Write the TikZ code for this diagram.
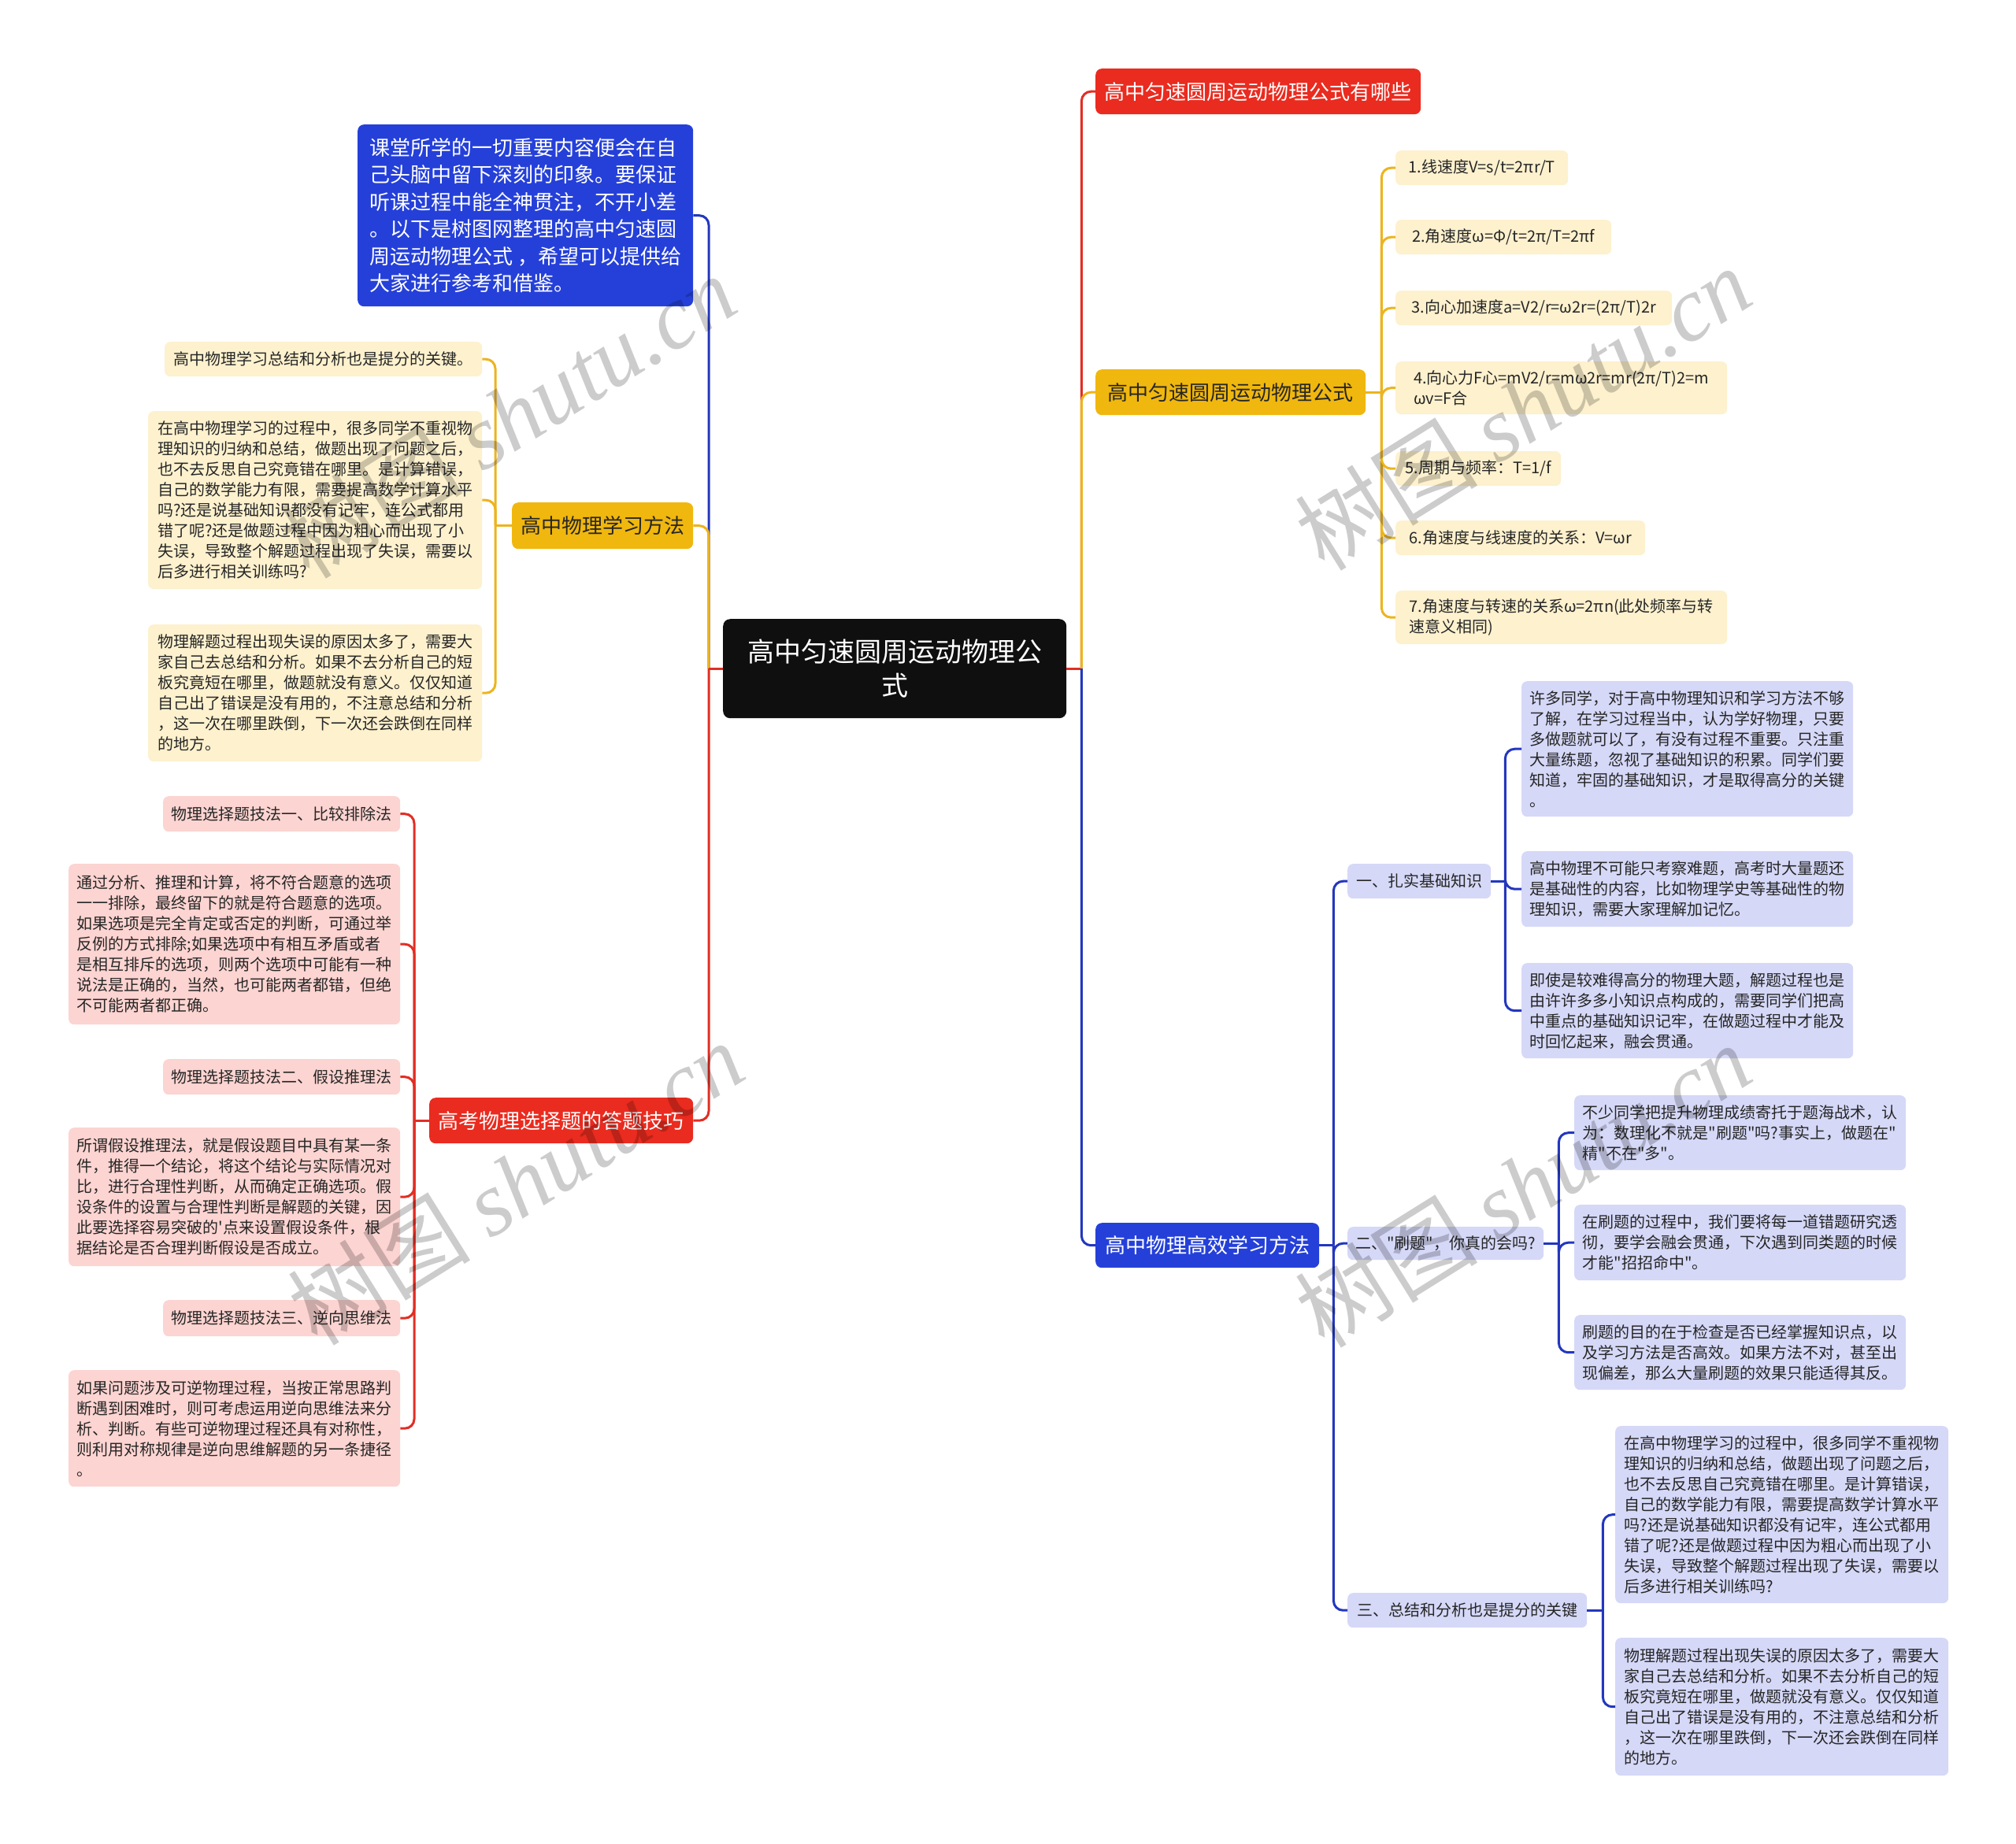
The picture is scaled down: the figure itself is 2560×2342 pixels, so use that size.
\documentclass[tikz,border=0pt]{standalone}
\usepackage{fontspec}
\setmainfont{Noto Sans CJK SC}
\newfontfamily\plaincjk{Noto Sans CJK SC}
\newfontfamily\wmlatin{Liberation Serif}
\newcommand\dq{{\plaincjk"}}
\newcommand\sq{{\plaincjk'}}
\definecolor{cblack}{RGB}{15,15,15}
\definecolor{cred}{RGB}{234,43,31}
\definecolor{cyel}{RGB}{240,183,14}
\definecolor{cblue}{RGB}{37,64,217}
\definecolor{lfy}{RGB}{253,241,206}
\definecolor{lfp}{RGB}{252,212,209}
\definecolor{lfb}{RGB}{213,216,247}
\definecolor{lnR}{RGB}{226,46,36}
\definecolor{lnY}{RGB}{236,180,30}
\definecolor{lnB}{RGB}{35,55,190}
\definecolor{txt}{RGB}{38,38,38}
\tikzset{
  nd/.style={rounded corners=7pt, inner xsep=6pt, inner ysep=0pt, align=left, anchor=north west,
    font=\fontsize{20}{26}\selectfont, text=txt},
  lfY/.style={nd, fill=lfy},
  lfP/.style={nd, fill=lfp},
  lfB/.style={nd, fill=lfb},
  midnode/.style={nd, rounded corners=8pt, align=center, font=\fontsize{26}{34.5}\selectfont},
  cR/.style={draw=lnR, line width=3pt, rounded corners=12pt},
  cY/.style={draw=lnY, line width=3pt, rounded corners=12pt},
  cB/.style={draw=lnB, line width=3pt, rounded corners=12pt},
  wm/.style={text=black, opacity=0.2, font=\fontsize{116}{128}\selectfont, rotate=32, inner sep=0pt}
}
\begin{document}
\begin{tikzpicture}[x=1pt,y=-1pt]
\useasboundingbox[fill=white] (0,0) rectangle (2560,2342);

% ---------- centre ----------
\node[midnode, minimum width=436pt, minimum height=126pt, fill=cblack, text=white, font=\fontsize{34}{43}\selectfont, rounded corners=9pt]
  (C) at (918,786) {高中匀速圆周运动物理公\\式};

% ---------- left main ----------
\node[midnode, minimum width=426pt, minimum height=231pt, fill=cblue, text=white, align=left] (IN) at (454,158)
 {课堂所学的一切重要内容便会在自\\己头脑中留下深刻的印象。要保证\\听课过程中能全神贯注，不开小差\\。以下是树图网整理的高中匀速圆\\周运动物理公式\ ，希望可以提供给\\大家进行参考和借鉴。};
\node[midnode, minimum width=230pt, minimum height=59pt, fill=cyel] (LM) at (650,638) {高中物理学习方法};
\node[midnode, minimum width=335pt, minimum height=58pt, fill=cred, text=white] (GK) at (545,1394) {高考物理选择题的答题技巧};

\node[lfY, minimum width=403pt, minimum height=44pt] (L1) at (209,434) {高中物理学习总结和分析也是提分的关键。};
\node[lfY, minimum width=424pt, minimum height=226pt] (L2) at (188,522)
 {在高中物理学习的过程中，很多同学不重视物\\理知识的归纳和总结，做题出现了问题之后，\\也不去反思自己究竟错在哪里。是计算错误，\\自己的数学能力有限，需要提高数学计算水平\\吗?还是说基础知识都没有记牢，连公式都用\\错了呢?还是做题过程中因为粗心而出现了小\\失误，导致整个解题过程出现了失误，需要以\\后多进行相关训练吗?};
\node[lfY, minimum width=424pt, minimum height=174pt] (L3) at (188,793)
 {物理解题过程出现失误的原因太多了，需要大\\家自己去总结和分析。如果不去分析自己的短\\板究竟短在哪里，做题就没有意义。仅仅知道\\自己出了错误是没有用的，不注意总结和分析\\，这一次在哪里跌倒，下一次还会跌倒在同样\\的地方。};

\node[lfP, minimum width=301pt, minimum height=45pt] (P1) at (207,1011) {物理选择题技法一、比较排除法};
\node[lfP, minimum width=421pt, minimum height=204pt] (P2) at (87,1097)
 {通过分析、推理和计算，将不符合题意的选项\\一一排除，最终留下的就是符合题意的选项。\\如果选项是完全肯定或否定的判断，可通过举\\反例的方式排除;如果选项中有相互矛盾或者\\是相互排斥的选项，则两个选项中可能有一种\\说法是正确的，当然，也可能两者都错，但绝\\不可能两者都正确。};
\node[lfP, minimum width=301pt, minimum height=45pt] (P3) at (207,1345) {物理选择题技法二、假设推理法};
\node[lfP, minimum width=421pt, minimum height=176pt] (P4) at (87,1432)
 {所谓假设推理法，就是假设题目中具有某一条\\件，推得一个结论，将这个结论与实际情况对\\比，进行合理性判断，从而确定正确选项。假\\设条件的设置与合理性判断是解题的关键，因\\此要选择容易突破的\sq 点来设置假设条件，根\\据结论是否合理判断假设是否成立。};
\node[lfP, minimum width=301pt, minimum height=46pt] (P5) at (207,1651) {物理选择题技法三、逆向思维法};
\node[lfP, minimum width=421pt, minimum height=148pt] (P6) at (87,1740)
 {如果问题涉及可逆物理过程，当按正常思路判\\断遇到困难时，则可考虑运用逆向思维法来分\\析、判断。有些可逆物理过程还具有对称性，\\则利用对称规律是逆向思维解题的另一条捷径\\。};

% ---------- right main ----------
\node[midnode, minimum width=413pt, minimum height=58pt, fill=cred, text=white] (RR) at (1391,87) {高中匀速圆周运动物理公式有哪些};
\node[midnode, minimum width=343pt, minimum height=58pt, fill=cyel] (RY) at (1391,469) {高中匀速圆周运动物理公式};
\node[midnode, minimum width=284pt, minimum height=57pt, fill=cblue, text=white] (RB) at (1391,1553) {高中物理高效学习方法};

\node[lfY, minimum width=219pt, minimum height=44pt] (F1) at (1772,191) {1.线速度V=s/t=2πr/T};
\node[lfY, minimum width=274pt, minimum height=44pt] (F2) at (1772,279) {2.角速度ω=Φ/t=2π/T=2πf};
\node[lfY, minimum width=351pt, minimum height=44pt] (F3) at (1772,369) {3.向心加速度a=V2/r=ω2r=(2π/T)2r};
\node[lfY, minimum width=421pt, minimum height=67pt] (F4) at (1772,459) {4.向心力F心=mV2/r=mω2r=mr(2π/T)2=m\\ωv=F合};
\node[lfY, minimum width=210pt, minimum height=44pt] (F5) at (1772,573) {5.周期与频率：T=1/f};
\node[lfY, minimum width=317pt, minimum height=44pt] (F6) at (1772,661) {6.角速度与线速度的关系：V=ωr};
\node[lfY, minimum width=421pt, minimum height=68pt] (F7) at (1772,750) {7.角速度与转速的关系ω=2πn(此处频率与转\\速意义相同)};

\node[lfB, minimum width=182pt, minimum height=44pt] (S1) at (1711,1097) {一、扎实基础知识};
\node[lfB, minimum width=249pt, minimum height=42pt] (S2) at (1711,1558) {二、\dq 刷题\dq ，你真的会吗?};
\node[lfB, minimum width=304pt, minimum height=44pt] (S3) at (1711,2023) {三、总结和分析也是提分的关键};

\node[lfB, minimum width=421pt, minimum height=172pt] (S1a) at (1932,865)
 {许多同学，对于高中物理知识和学习方法不够\\了解，在学习过程当中，认为学好物理，只要\\多做题就可以了，有没有过程不重要。只注重\\大量练题，忽视了基础知识的积累。同学们要\\知道，牢固的基础知识，才是取得高分的关键\\。};
\node[lfB, minimum width=421pt, minimum height=96pt] (S1b) at (1932,1081)
 {高中物理不可能只考察难题，高考时大量题还\\是基础性的内容，比如物理学史等基础性的物\\理知识，需要大家理解加记忆。};
\node[lfB, minimum width=421pt, minimum height=121pt] (S1c) at (1932,1223)
 {即使是较难得高分的物理大题，解题过程也是\\由许许多多小知识点构成的，需要同学们把高\\中重点的基础知识记牢，在做题过程中才能及\\时回忆起来，融会贯通。};
\node[lfB, minimum width=421pt, minimum height=95pt] (S2a) at (1999,1391)
 {不少同学把提升物理成绩寄托于题海战术，认\\为：数理化不就是\dq 刷题\dq 吗?事实上，做题在\dq\\精\dq 不在\dq 多\dq 。};
\node[lfB, minimum width=421pt, minimum height=96pt] (S2b) at (1999,1530)
 {在刷题的过程中，我们要将每一道错题研究透\\彻，要学会融会贯通，下次遇到同类题的时候\\才能\dq 招招命中\dq 。};
\node[lfB, minimum width=421pt, minimum height=95pt] (S2c) at (1999,1670)
 {刷题的目的在于检查是否已经掌握知识点，以\\及学习方法是否高效。如果方法不对，甚至出\\现偏差，那么大量刷题的效果只能适得其反。};
\node[lfB, minimum width=423pt, minimum height=225pt] (S3a) at (2051,1811)
 {在高中物理学习的过程中，很多同学不重视物\\理知识的归纳和总结，做题出现了问题之后，\\也不去反思自己究竟错在哪里。是计算错误，\\自己的数学能力有限，需要提高数学计算水平\\吗?还是说基础知识都没有记牢，连公式都用\\错了呢?还是做题过程中因为粗心而出现了小\\失误，导致整个解题过程出现了失误，需要以\\后多进行相关训练吗?};
\node[lfB, minimum width=423pt, minimum height=175pt] (S3b) at (2051,2080)
 {物理解题过程出现失误的原因太多了，需要大\\家自己去总结和分析。如果不去分析自己的短\\板究竟短在哪里，做题就没有意义。仅仅知道\\自己出了错误是没有用的，不注意总结和分析\\，这一次在哪里跌倒，下一次还会跌倒在同样\\的地方。};

% ---------- junctions ----------
\path (C.west) ++(-18,0) coordinate (jCL);
\path (C.east) ++(19,0) coordinate (jCR);
\path (LM.west) ++(-21,0) coordinate (jLM);
\path (GK.west) ++(-19,0) coordinate (jGK);
\path (RY.east) ++(20,0) coordinate (jRY);
\path (RB.east) ++(18,0) coordinate (jRB);
\path (S1.east) ++(18,0) coordinate (jS1);
\path (S2.east) ++(19,0) coordinate (jS2);
\path (S3.east) ++(20,0) coordinate (jS3);

% centre connectors
\draw[cB] (C.west) -- (jCL);
\draw[cB] (jCL) |- (IN.east);
\draw[cY] (jCL) |- (LM.east);
\draw[cR] (C.west) -- (jCL);
\draw[cR] (jCL) |- (GK.east);
\draw[cR] (C.east) -- (jCR);
\draw[cR] (jCR) |- (RR.west);
\draw[cY] (jCR) |- (RY.west);
\draw[cB] (jCR) |- (RB.west);

% yellow left
\draw[cY] (LM.west) -- (jLM);
\foreach \n in {L1,L2,L3} \draw[cY] (jLM) |- (\n.east);
% red left
\draw[cR] (GK.west) -- (jGK);
\foreach \n in {P1,P2,P3,P4,P5,P6} \draw[cR] (jGK) |- (\n.east);
% yellow right
\draw[cY] (RY.east) -- (jRY);
\foreach \n in {F1,F2,F3,F4,F5,F6,F7} \draw[cY] (jRY) |- (\n.west);
% blue right
\draw[cB] (RB.east) -- (jRB);
\foreach \n in {S1,S2,S3} \draw[cB] (jRB) |- (\n.west);
\draw[cB] (S1.east) -- (jS1);
\foreach \n in {S1a,S1b,S1c} \draw[cB] (jS1) |- (\n.west);
\draw[cB] (S2.east) -- (jS2);
\foreach \n in {S2a,S2b,S2c} \draw[cB] (jS2) |- (\n.west);
\draw[cB] (S3.east) -- (jS3);
\foreach \n in {S3a,S3b} \draw[cB] (jS3) |- (\n.west);

% ---------- watermarks ----------
\begin{scope}
\clip (0,0) rectangle (2560,2342);
\node[wm] (wmA) at (645,528) {树图 {\wmlatin\itshape shutu.cn}};
\node[wm] (wmB) at (1934,518) {树图 {\wmlatin\itshape shutu.cn}};
\node[wm] (wmC) at (655,1502) {树图 {\wmlatin\itshape shutu.cn}};
\node[wm] (wmD) at (1934,1505) {树图 {\wmlatin\itshape shutu.cn}};
\end{scope}
\end{tikzpicture}
\end{document}
